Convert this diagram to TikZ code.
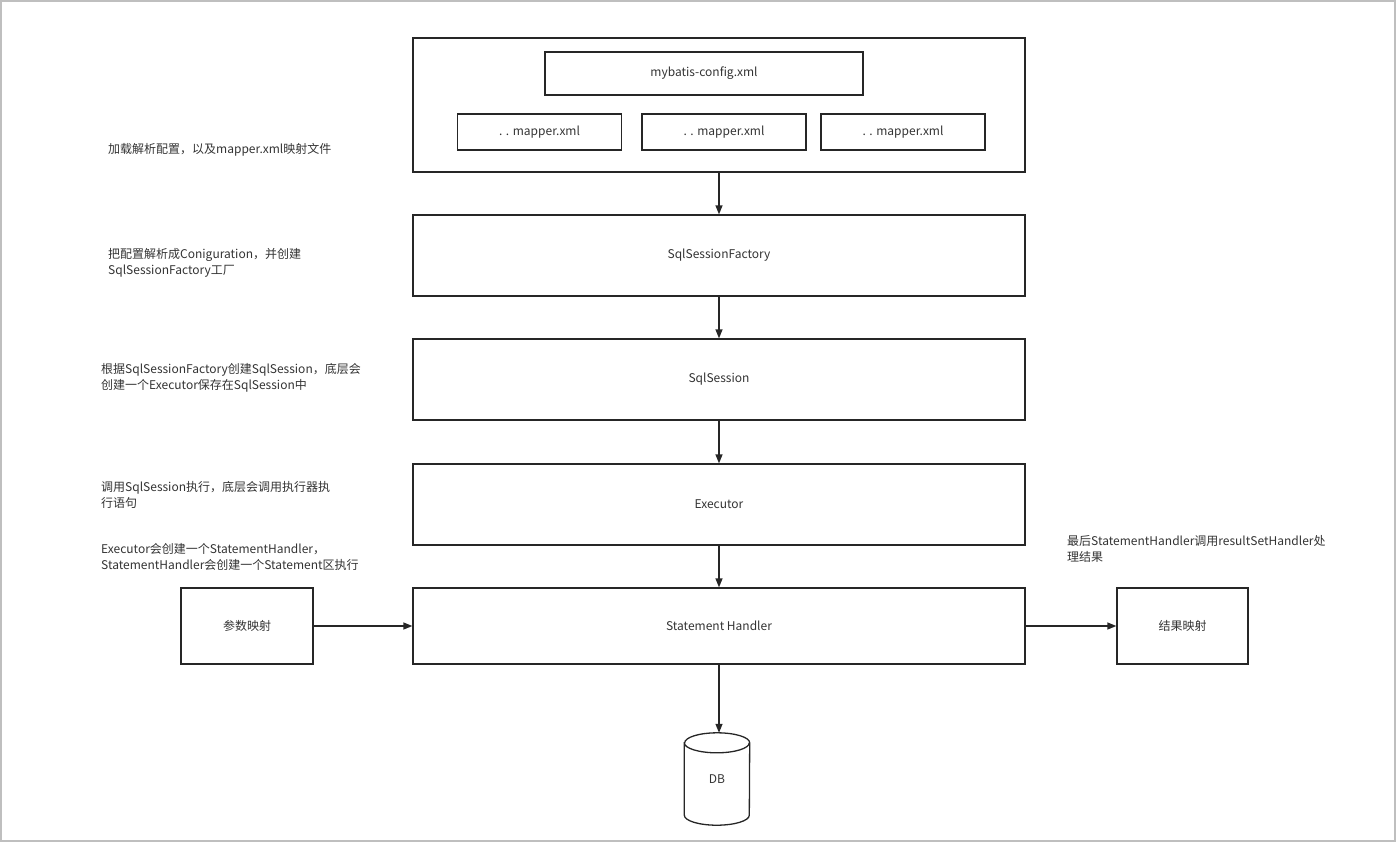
\documentclass[tikz,border=0pt]{standalone}
\usepackage{fontspec}
\setmainfont{Noto Sans CJK SC}
\usetikzlibrary{arrows.meta}

\tikzset{
    box/.style={draw=black!85, line width=1.3pt, rectangle, minimum width=612, minimum height=81, inner sep=0pt},
    smallbox/.style={box, minimum width=164, minimum height=36},
    note/.style={anchor=west, align=left, inner sep=0pt, text=black!80, font=\fontsize{12}{16}\selectfont},
    flow/.style={draw=black!85, line width=1.3pt, -{Triangle[width=7pt,length=9pt]}},
}

\begin{document}
\begin{tikzpicture}[x=1pt, y=-1pt, every node/.append style={text=black!80, font=\fontsize{12}{14}\selectfont}]
    % frame
    \useasboundingbox (0,0) rectangle (1400,847);
    \draw[black!25, line width=2pt] (1,1) rectangle (1395,841);

    % configuration files
    \node[box, minimum height=134] (config) at (719,105) {};
    \node[box, minimum width=318, minimum height=43] (mybatis) at (704,73.5) {mybatis-config.xml};
    \node[smallbox] (mapperA) at (539.5,132) {. . mapper.xml};
    \node[smallbox] (mapperB) at (724,132) {. . mapper.xml};
    \node[smallbox] (mapperC) at (903,132) {. . mapper.xml};

    % main flow
    \node[box] (factory) at (719,255.5) {SqlSessionFactory};
    \node[box] (session) at (719,379.5) {SqlSession};
    \node[box] (executor) at (719,504.5) {Executor};
    \node[box, minimum height=76] (handler) at (719,626) {Statement Handler};
    \node[box, minimum width=132, minimum height=76] (param) at (247,626) {参数映射};
    \node[box, minimum width=131, minimum height=76] (result) at (1182.5,626) {结果映射};

    % database
    \node[minimum width=65, minimum height=92, inner sep=0pt] (db) at (717,779) {DB};
    \draw[black!85, line width=1.3pt]
        ([yshift=-10pt]db.north west) -- ([yshift=10pt]db.south west)
        arc (180:360:32.5pt and 10pt) -- ([yshift=-10pt]db.north east)
        arc (0:180:32.5pt and 10pt) -- cycle
        ([yshift=-10pt]db.north west) arc (180:360:32.5pt and 10pt);

    \draw[flow] (config) -- (factory);
    \draw[flow] (factory) -- (session);
    \draw[flow] (session) -- (executor);
    \draw[flow] (executor) -- (handler);
    \draw[flow] (param) -- (handler);
    \draw[flow] (handler) -- (result);
    \draw[flow] (handler.south) -- (handler.south |- db.north);

    % notes
    \node[note] (noteA) at (108,150) {加载解析配置，以及mapper.xml映射文件};
    \node[note] (noteB) at (108,263) {把配置解析成Coniguration，并创建\\SqlSessionFactory工厂};
    \node[note] (noteC) at (101,378) {根据SqlSessionFactory创建SqlSession，底层会\\创建一个Executor保存在SqlSession中};
    \node[note] (noteD) at (101,494.5) {调用SqlSession执行，底层会调用执行器执\\行语句};
    \node[note] (noteE) at (101,556.5) {Executor会创建一个StatementHandler，\\StatementHandler会创建一个Statement区执行};
    \node[note] (noteF) at (1067,548.5) {最后StatementHandler调用resultSetHandler处\\理结果};
\end{tikzpicture}
\end{document}
